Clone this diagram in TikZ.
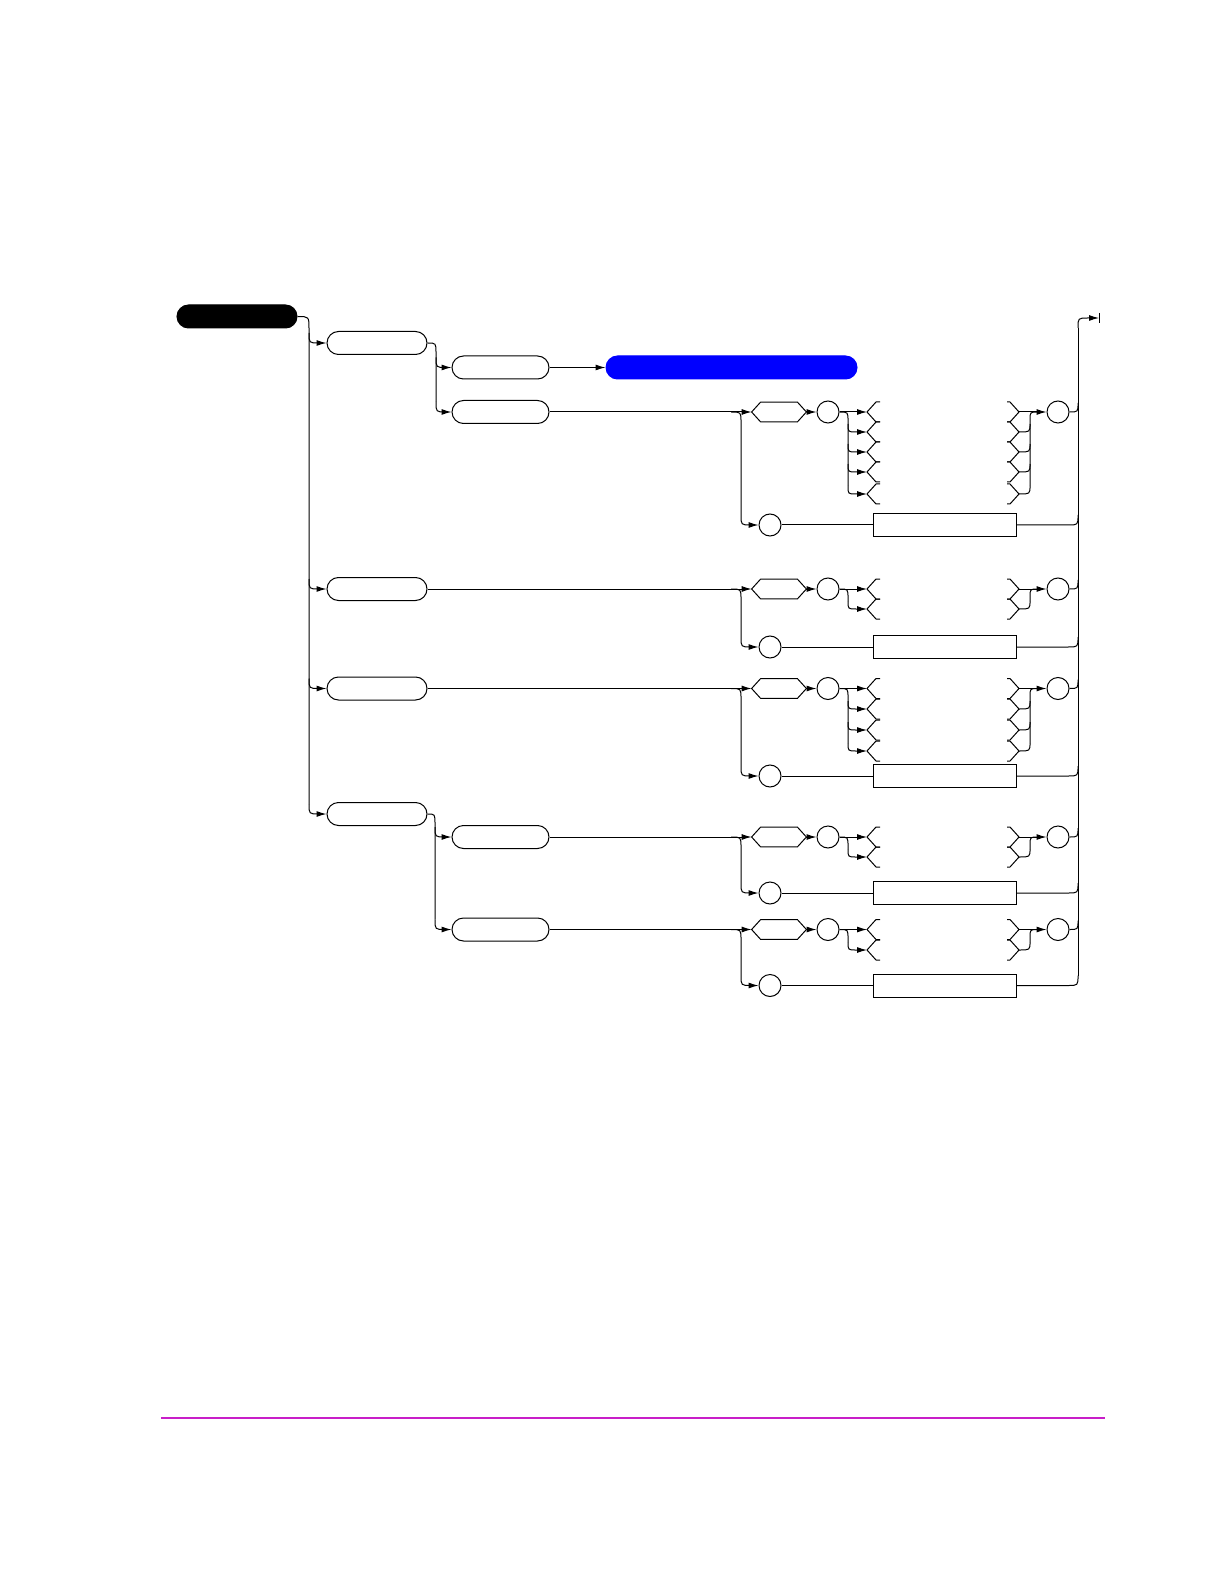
\documentclass[tikz,border=0pt]{standalone}
\usetikzlibrary{arrows.meta,shapes.misc}
\definecolor{mag}{RGB}{200,30,200}
\definecolor{pureblue}{RGB}{0,0,255}
\tikzset{
 conn/.style={draw=black, line width=0.5pt},
 arrw/.style={conn, -{Latex[length=5pt,width=3pt]}},
 pill/.style={rounded rectangle, draw, line width=0.5pt, minimum height=11.5pt, inner sep=0pt},
 circ/.style={circle, draw, line width=0.5pt, minimum size=11pt, inner sep=0pt},
 rectbox/.style={rectangle, draw, line width=0.5pt, minimum width=71.5pt, minimum height=11.5pt, inner sep=0pt},
 hexbox/.style={rectangle, minimum width=27pt, minimum height=9.5pt, inner sep=0pt},
}
% #1 prefix, #2 top y, #3 bottom y, #4 extra chevron ys, #5 last chevron y, #6 source node
\newcommand\SynRow[6]{%
 \node[hexbox] (#1h) at (779,#2) {};
 \draw[conn] (#1h.west) -- ([xshift=4.5pt]#1h.north west) -- ([xshift=-4.5pt]#1h.north east) -- (#1h.east) -- ([xshift=-4.5pt]#1h.south east) -- ([xshift=4.5pt]#1h.south west) -- cycle;
 \node[circ] (#1c) at (828,#2) {};
 \node[circ] (#1e) at (1058,#2) {};
 \node[circ] (#1b) at (770,#3) {};
 \node[rectbox] (#1r) at (944.5,#3) {};
 \coordinate (#1s) at (731,#2);
 \coordinate (#1t) at (867,#2);
 \coordinate (#1u) at (1019,#2);
 \draw[arrw] (#6.east) -- (#1h.west);
 \draw[arrw] (#1s) .. controls (741,#2) .. (741,#2+10) -- (741,#3-10) .. controls (741,#3) .. (751,#3) -- (#1b.west);
 \draw[arrw] (#1h.east) -- (#1c.west);
 \draw[arrw] (#1c.east) -- (#1t);
 \draw[conn] (#1c.east) .. controls (848,#2) .. (848,#2+9) -- (848,#5-8);
 \foreach \yy in {#4}{
   \draw[arrw] (848,\yy-8) .. controls (848,\yy) .. (856,\yy) -- (867,\yy);
   \draw[conn] (1019,\yy) .. controls (1030,\yy) .. (1030,\yy-8);
 }
 \foreach \yy in {#2,#4}{
   \draw[conn] (880,\yy-10) -- (876,\yy-10) -- (867,\yy) -- (876,\yy+10) -- (880,\yy+10);
   \draw[conn] (1007,\yy-10) -- (1010,\yy-10) -- (1019,\yy) -- (1010,\yy+10) -- (1007,\yy+10);
 }
 \draw[conn] (1030,#5-8) -- (1030,#2+8) .. controls (1030,#2) .. (1038,#2);
 \draw[arrw] (#1u) -- (#1e.west);
 \draw[conn] (#1e.east) .. controls (1078,#2) .. (1078,#2-9);
 \draw[conn] (#1b.east) -- (#1r.west);
 \draw[conn] (#1r.east) -- (1068,#3) .. controls (1078,#3) .. (1078,#3-10);
}
\begin{document}
\begin{tikzpicture}[x=0.5pt,y=-0.5pt]
\useasboundingbox (0,0) rectangle (1224,1582);
% top-level nodes
\node[pill, fill=black, minimum width=60pt] (blk) at (237,316.5) {};
\node[pill, minimum width=50pt] (pA) at (377,343) {};
\node[pill, minimum width=50pt] (pB) at (377,589) {};
\node[pill, minimum width=50pt] (pC) at (377,688.5) {};
\node[pill, minimum width=50pt] (pD) at (377,814) {};
\node[pill, minimum width=48.5pt] (pA1) at (500.5,367.5) {};
\node[pill, minimum width=48.5pt] (pA2) at (500.5,412) {};
\node[pill, minimum width=48.5pt] (pD1) at (500.5,837) {};
\node[pill, minimum width=48.5pt] (pD2) at (500.5,929.5) {};
\node[pill, fill=pureblue, draw=pureblue, minimum width=125.5pt] (blue) at (731.5,367.5) {};
% main trunk
\draw[conn] (blk.east) .. controls (309,316.5) .. (309,329) -- (309,804);
\draw[arrw] (309,333) .. controls (309,343) .. (319,343) -- (pA.west);
\draw[arrw] (309,579) .. controls (309,589) .. (319,589) -- (pB.west);
\draw[arrw] (309,678.5) .. controls (309,688.5) .. (319,688.5) -- (pC.west);
\draw[arrw] (309,804) .. controls (309,814) .. (319,814) -- (pD.west);
% sub trunk A
\draw[conn] (pA.east) .. controls (436,343) .. (436,353) -- (436,402);
\draw[arrw] (436,357.5) .. controls (436,367.5) .. (446,367.5) -- (pA1.west);
\draw[arrw] (436,402) .. controls (436,412) .. (446,412) -- (pA2.west);
\draw[arrw] (pA1.east) -- (blue.west);
% sub trunk D
\draw[conn] (pD.east) .. controls (435,814) .. (435,824) -- (435,919.5);
\draw[arrw] (435,827) .. controls (435,837) .. (445,837) -- (pD1.west);
\draw[arrw] (435,919.5) .. controls (435,929.5) .. (445,929.5) -- (pD2.west);
% rows
\SynRow{ra}{412}{525}{432,452,472,494}{494}{pA2}
\SynRow{rb}{589}{647}{609}{609}{pB}
\SynRow{rc}{688.5}{776}{709,730,751}{751}{pC}
\SynRow{rd}{837}{893}{857}{857}{pD1}
\SynRow{re}{929.5}{985.5}{950}{950}{pD2}
% right trunk and exit
\coordinate (endpt) at (1099,318);
\draw[conn] (1078,975.5) -- (1078,328);
\draw[arrw] (1078,328) .. controls (1078,318) .. (1088,318) -- (endpt);
\draw[conn] (1099,313) -- (1099,323);
% footer rule
\coordinate (fl) at (161,1418);
\coordinate (fr) at (1105,1418);
\draw[draw=mag, line width=1.2pt] (fl) -- (fr);
\end{tikzpicture}
\end{document}
